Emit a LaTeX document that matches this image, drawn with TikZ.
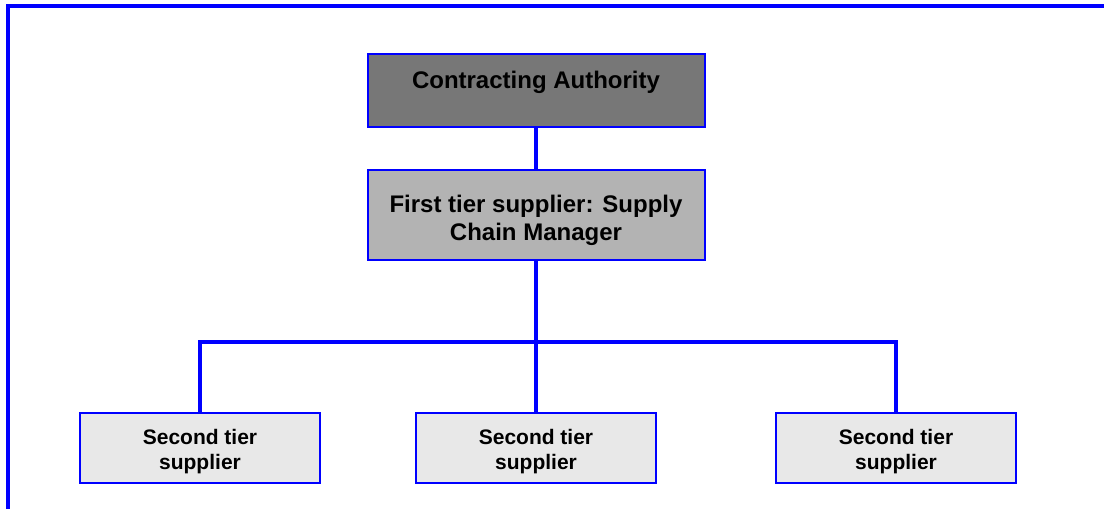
\documentclass[tikz,border=0pt]{standalone}
\usepackage{fontspec}
\setmainfont{Liberation Sans}
\definecolor{chainblue}{RGB}{0,0,255}
\definecolor{authgrey}{RGB}{119,119,119}
\definecolor{firstgrey}{RGB}{179,179,179}
\definecolor{secondgrey}{RGB}{232,232,232}
\tikzset{
  tierbox/.style={draw=chainblue, line width=1.5pt, inner sep=0pt, align=center, font=\bfseries},
  link/.style={draw=chainblue, line width=2.4pt}
}
\begin{document}
\begin{tikzpicture}[x=0.75pt,y=0.75pt,yscale=-1,xscale=1]
\useasboundingbox (0,0) rectangle (1104,509);

%Straight Lines: frame
\draw [link] (8,509) -- (8,6) -- (1104,6) ;

%Shape: Rectangle: contracting authority
\node [tierbox, fill=authgrey, minimum width=252.75pt, minimum height=54.75pt,
  text height=13pt, text depth=15.25pt, font=\bfseries\fontsize{18}{21}\selectfont] (auth) at (536,90.5) {Contracting Authority};
%Shape: Rectangle: first tier
\node [tierbox, fill=firstgrey, minimum width=252.75pt, minimum height=67.5pt,
  text height=40pt, text depth=1pt, font=\bfseries\fontsize{18}{21}\selectfont] (first) at (536,215) {First tier supplier: Supply\\Chain Manager};

%Shape: Rectangle: second tier
\node [tierbox, fill=secondgrey, minimum width=180pt, minimum height=52.5pt,
  text height=34pt, text depth=1pt, font=\bfseries\fontsize{15.75}{19}\selectfont] (secondL) at (200,448) {Second tier\\supplier};
\node [tierbox, fill=secondgrey, minimum width=180pt, minimum height=52.5pt,
  text height=34pt, text depth=1pt, font=\bfseries\fontsize{15.75}{19}\selectfont] (secondM) at (536,448) {Second tier\\supplier};
\node [tierbox, fill=secondgrey, minimum width=180pt, minimum height=52.5pt,
  text height=34pt, text depth=1pt, font=\bfseries\fontsize{15.75}{19}\selectfont] (secondR) at (896,448) {Second tier\\supplier};

%Straight Lines: bus
\coordinate (busL) at (200,342);
\coordinate (busR) at (896,342);
\draw [link] (auth.south) -- (first.north) ;
\draw [link] (first.south) -- (secondM.north) ;
\draw [link] (secondL.north) -- (busL) -- (busR) -- (secondR.north) ;

\end{tikzpicture}
\end{document}
